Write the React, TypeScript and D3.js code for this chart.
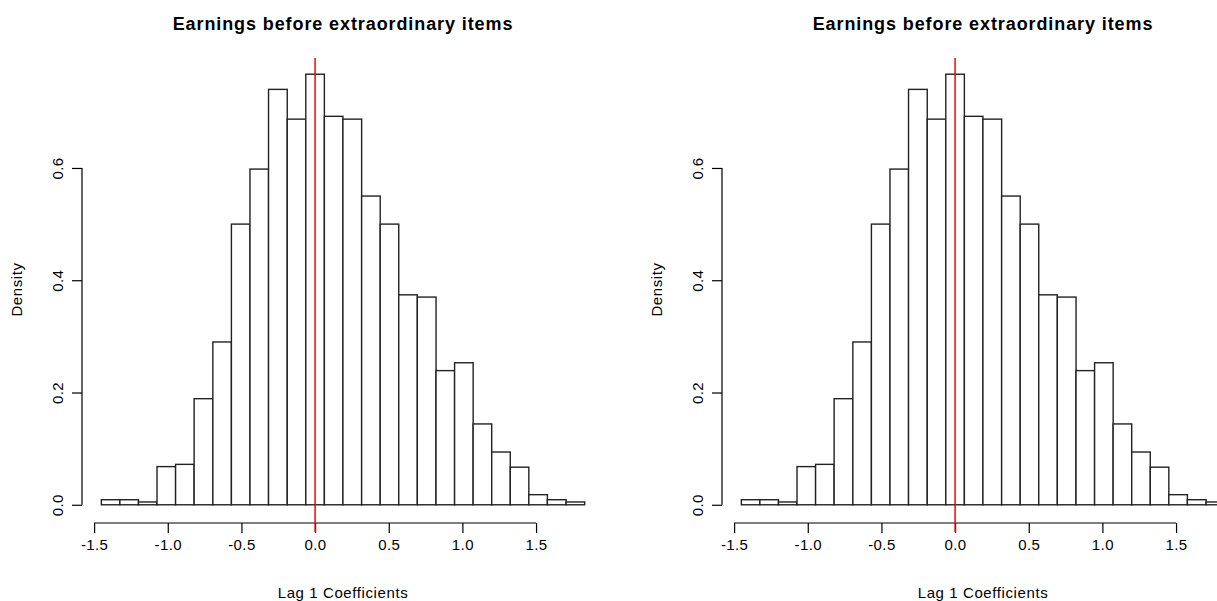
import React from 'react'
import { axisBottom, axisLeft, scaleLinear, select } from 'd3'

// histogram bin edges and density per bin
const breaks = [
  -1.451, -1.325, -1.199, -1.073, -0.947, -0.821, -0.694, -0.568, -0.442,
  -0.316, -0.189, -0.063, 0.063, 0.189, 0.316, 0.442, 0.568, 0.694, 0.821,
  0.947, 1.073, 1.199, 1.325, 1.451, 1.577, 1.704, 1.83,
]
const density = [
  0.009, 0.009, 0.005, 0.068, 0.072, 0.189, 0.29, 0.5, 0.598, 0.74, 0.687,
  0.767, 0.692, 0.687, 0.55, 0.5, 0.374, 0.37, 0.239, 0.253, 0.144, 0.094,
  0.067, 0.018, 0.009, 0.005,
]
const xTicks = [-1.5, -1.0, -0.5, 0.0, 0.5, 1.0, 1.5]
const yTicks = [0.0, 0.2, 0.4, 0.6]
const vline = 0
const title = 'Earnings before extraordinary items'
const xLabel = 'Lag 1 Coefficients'
const yLabel = 'Density'
const panels = [0, 640]

const font = 'Liberation Sans, Arial, Helvetica, sans-serif'

const Panel = ({ dx }: { dx: number }) => {
  // plot region like R: data range padded by 4%
  const xmin = breaks[0]
  const xmax = breaks[breaks.length - 1]
  const xpad = (xmax - xmin) * 0.04
  const ymax = Math.max(...density)
  const ypad = ymax * 0.04
  const left = 82
  const right = 604
  const top = 57
  const bottom = 522
  const xScale = scaleLinear().domain([xmin - xpad, xmax + xpad]).range([left, right])
  const yScale = scaleLinear().domain([-ypad, ymax + ypad]).range([bottom, top])

  const xAxisRef = (ref: SVGGElement | null) => {
    if (!ref) return
    const g = select(ref)
    g.call(axisBottom(xScale).tickValues(xTicks).tickSize(10).tickPadding(6).tickFormat((d: any) => d.toFixed(1)) as any)
    g.select('.domain').attr('d', `M${xScale(xTicks[0])},0H${xScale(xTicks[xTicks.length - 1])}`)
    g.selectAll('text').attr('font-size', 15).attr('font-family', font).attr('fill', '#000').attr('letter-spacing', 0.4)
    g.selectAll('line, path').attr('stroke', '#000').attr('stroke-width', 1.2)
  }
  const yAxisRef = (ref: SVGGElement | null) => {
    if (!ref) return
    const g = select(ref)
    g.call(axisLeft(yScale).tickValues(yTicks).tickSize(10).tickPadding(6).tickFormat((d: any) => d.toFixed(1)) as any)
    g.select('.domain').attr('d', `M0,${yScale(yTicks[0])}V${yScale(yTicks[yTicks.length - 1])}`)
    g.selectAll('text')
      .attr('font-size', 15)
      .attr('font-family', font)
      .attr('fill', '#000')
      .attr('letter-spacing', 0.4)
      .attr('text-anchor', 'middle')
      .attr('dy', 0)
      .attr('x', 0)
      .attr('transform', () => `translate(-19,0) rotate(-90)`)
    g.selectAll('line, path').attr('stroke', '#000').attr('stroke-width', 1.2)
  }

  const cx = (left + right) / 2
  return (
    <g transform={`translate(${dx},0)`}>
      <text x={cx} y={30} textAnchor="middle" fontFamily={font} fontWeight="bold" fontSize={18} letterSpacing={0.9}>
        {title}
      </text>
      {density.map((d, i) => (
        <rect
          key={i}
          x={xScale(breaks[i])}
          y={yScale(d)}
          width={xScale(breaks[i + 1]) - xScale(breaks[i])}
          height={yScale(0) - yScale(d)}
          fill="#fff"
          stroke="#222"
          strokeWidth={1.4}
        />
      ))}
      <g transform={`translate(0,${bottom + 1})`} ref={xAxisRef} />
      <g transform={`translate(${left},0)`} ref={yAxisRef} />
      <line x1={xScale(vline)} x2={xScale(vline)} y1={top + 1} y2={bottom + 10} stroke="#ff0000" strokeWidth={1.5} />
      <text x={cx} y={598} textAnchor="middle" fontFamily={font} fontSize={15} letterSpacing={0.6}>
        {xLabel}
      </text>
      <text transform={`translate(22,${(top + bottom) / 2}) rotate(-90)`} textAnchor="middle" fontFamily={font} fontSize={15} letterSpacing={0.6}>
        {yLabel}
      </text>
    </g>
  )
}

export default () => {
  const width = 1217
  const height = 601
  return (
    <svg width={width} height={height} style={{ position: 'absolute', left: 0, top: 0, background: '#fff' }}>
      {panels.map(dx => (
        <Panel key={dx} dx={dx} />
      ))}
    </svg>
  )
}
